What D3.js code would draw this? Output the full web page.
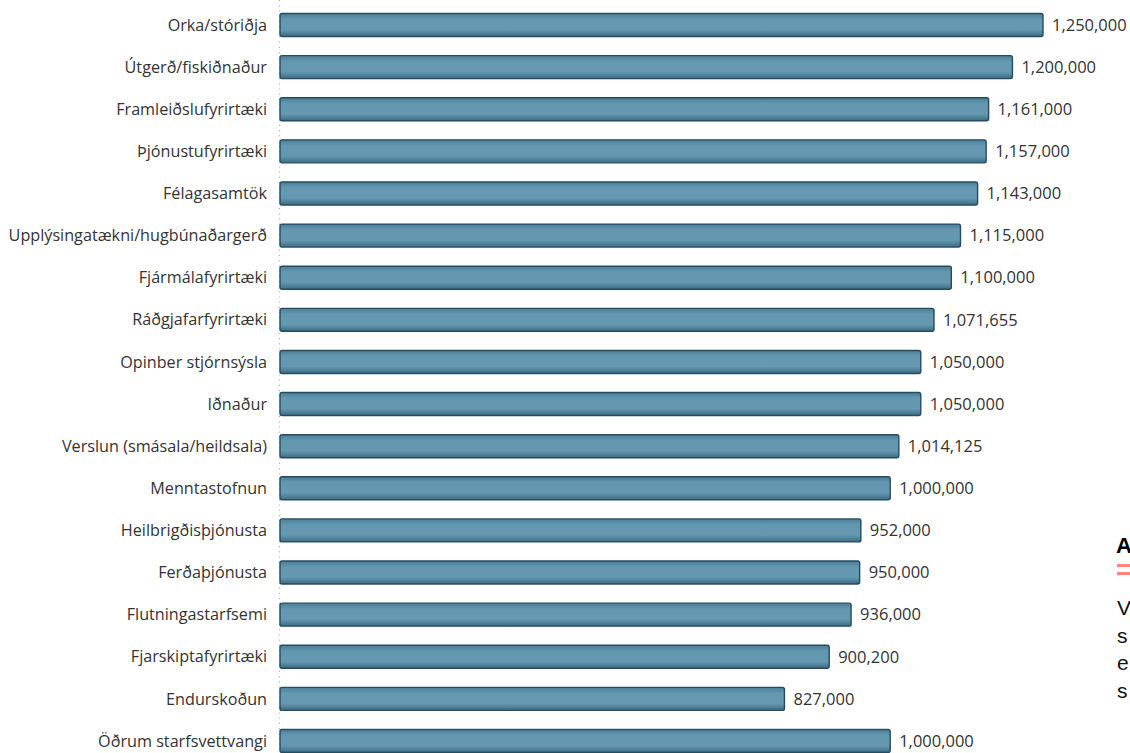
<!DOCTYPE html>
<html><head><meta charset="utf-8">
<script src="https://cdn.jsdelivr.net/npm/d3@7"></script>
<style>body{margin:0;background:#fff;overflow:hidden}svg{display:block}</style>
</head><body>
<svg id="c" width="1130" height="753"></svg>
<script>
const categories = ["Orka/stóriðja","Útgerð/fiskiðnaður","Framleiðslufyrirtæki","Þjónustufyrirtæki","Félagasamtök","Upplýsingatækni/hugbúnaðargerð","Fjármálafyrirtæki","Ráðgjafarfyrirtæki","Opinber stjórnsýsla","Iðnaður","Verslun (smásala/heildsala)","Menntastofnun","Heilbrigðisþjónusta","Ferðaþjónusta","Flutningastarfsemi","Fjarskiptafyrirtæki","Endurskoðun","Öðrum starfsvettvangi"];
const values = [1250000,1200000,1161000,1157000,1143000,1115000,1100000,1071655,1050000,1050000,1014125,1000000,952000,950000,936000,900200,827000,1000000];
const sideTitle = "A";
const sideLines = ["V","s","e","s"];

const svg = d3.select("#c");
const x = d3.scaleLinear().domain([0,1250000]).range([279,1043]);
const y = d3.scaleBand().domain(categories).range([13.5,752.5]).paddingInner(0.454).paddingOuter(0);

const defs = svg.append("defs");
const g = defs.append("linearGradient").attr("id","bg").attr("x1",0).attr("y1",0).attr("x2",0).attr("y2",1);
g.append("stop").attr("offset","0%").attr("stop-color","#4b7d96");
g.append("stop").attr("offset","25%").attr("stop-color","#6398b0");
g.append("stop").attr("offset","70%").attr("stop-color","#6599b1");
g.append("stop").attr("offset","100%").attr("stop-color","#3d6b82");

svg.append("line").attr("x1",279.5).attr("x2",279.5).attr("y1",0).attr("y2",753)
  .attr("stroke","#b5b5b5").attr("stroke-width",1.2).attr("stroke-dasharray","1.2,4");

const row = svg.selectAll("g.row").data(categories).enter().append("g").attr("class","row");
row.append("rect")
  .attr("x", x(0)+1)
  .attr("y", d=>y(d))
  .attr("width", (d,i)=>x(values[i])-x(0)-1)
  .attr("height", y.bandwidth())
  .attr("rx",2).attr("ry",2)
  .attr("fill","url(#bg)").attr("stroke","#254c5f").attr("stroke-width",1.4);

row.append("text")
  .attr("x",267).attr("y",d=>y(d)+y.bandwidth()/2)
  .attr("dy","0.35em").attr("text-anchor","end")
  .attr("font-family","'Open Sans',sans-serif").attr("font-size",16.2).attr("fill","#333")
  .text(d=>d);

const fmt = d3.format(",");
row.append("text")
  .attr("x",(d,i)=>x(values[i])+9).attr("y",d=>y(d)+y.bandwidth()/2)
  .attr("dy","0.35em")
  .attr("font-family","'Open Sans',sans-serif").attr("font-size",16.5).attr("fill","#333")
  .text((d,i)=>fmt(values[i]));

svg.append("text").attr("x",1116).attr("y",553).attr("font-family","'Liberation Sans',Arial,sans-serif")
  .attr("font-size",22).attr("font-weight","bold").attr("fill","#000").text(sideTitle);
svg.append("rect").attr("x",1117).attr("y",564).attr("width",13).attr("height",3).attr("fill","#ff8585");
svg.append("rect").attr("x",1117).attr("y",572).attr("width",13).attr("height",3).attr("fill","#ff8585");
svg.selectAll("text.side").data(sideLines).enter().append("text").attr("class","side")
  .attr("x",1117).attr("y",(d,i)=>615+i*27.5)
  .attr("font-family","'Liberation Sans',Arial,sans-serif").attr("font-size",21).attr("fill","#111")
  .text(d=>d);
</script>
</body></html>
